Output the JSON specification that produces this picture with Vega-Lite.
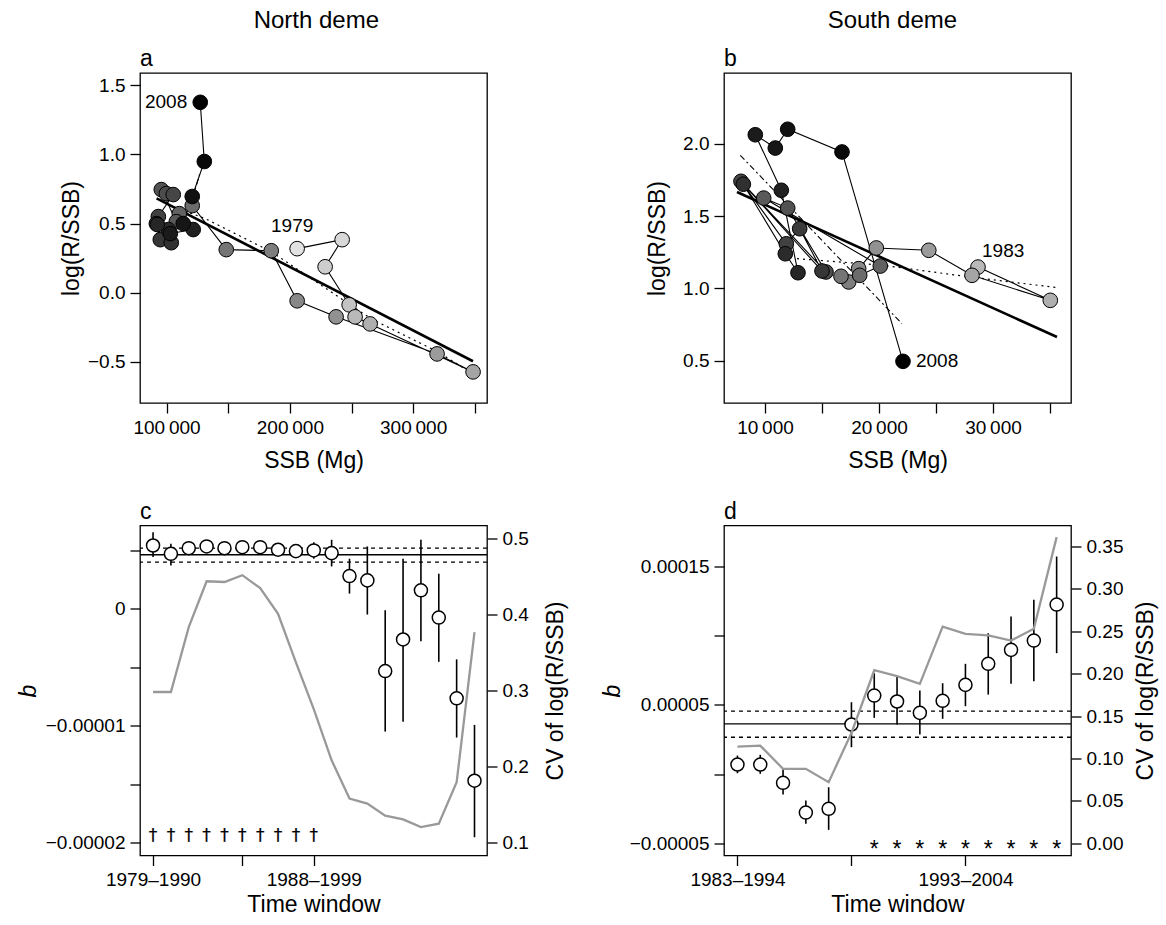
{
  "$schema": "https://vega.github.io/schema/vega-lite/v6.json",
  "padding": {"left": 16, "top": 9, "right": 2, "bottom": 2},
  "background": "white",
  "config": {
    "font": "Liberation Sans",
    "view": {"stroke": "black", "strokeWidth": 1.3},
    "axis": {"domain": false, "grid": false, "tickColor": "black", "tickWidth": 1.3, "tickSize": 10, "labelFontSize": 19, "labelColor": "black", "labelFont": "Liberation Sans", "labelPadding": 5, "titleFont": "Liberation Sans", "titleFontSize": 23, "titleFontWeight": "normal", "titleColor": "black", "labelOverlap": false, "labelFlush": false},
    "title": {"font": "Liberation Sans", "fontSize": 23, "fontWeight": "normal", "color": "black"},
    "text": {"font": "Liberation Sans", "color": "black"}
  },
  "datasets": {
    "north": [
      {"year": 1979, "ssb": 205900, "logRS": 0.319},
      {"year": 1980, "ssb": 242400, "logRS": 0.384},
      {"year": 1981, "ssb": 228600, "logRS": 0.188},
      {"year": 1982, "ssb": 248100, "logRS": -0.087},
      {"year": 1983, "ssb": 252900, "logRS": -0.174},
      {"year": 1984, "ssb": 265100, "logRS": -0.225},
      {"year": 1985, "ssb": 348600, "logRS": -0.572},
      {"year": 1986, "ssb": 319400, "logRS": -0.442},
      {"year": 1987, "ssb": 237500, "logRS": -0.174},
      {"year": 1988, "ssb": 205900, "logRS": -0.058},
      {"year": 1989, "ssb": 184900, "logRS": 0.304},
      {"year": 1990, "ssb": 148400, "logRS": 0.312},
      {"year": 1991, "ssb": 120800, "logRS": 0.630},
      {"year": 1992, "ssb": 110300, "logRS": 0.572},
      {"year": 1993, "ssb": 107900, "logRS": 0.514},
      {"year": 1994, "ssb": 95700, "logRS": 0.746},
      {"year": 1995, "ssb": 99800, "logRS": 0.717},
      {"year": 1996, "ssb": 105400, "logRS": 0.710},
      {"year": 1997, "ssb": 93300, "logRS": 0.551},
      {"year": 1998, "ssb": 91700, "logRS": 0.500},
      {"year": 1999, "ssb": 94900, "logRS": 0.384},
      {"year": 2000, "ssb": 103800, "logRS": 0.362},
      {"year": 2001, "ssb": 101400, "logRS": 0.457},
      {"year": 2002, "ssb": 92500, "logRS": 0.493},
      {"year": 2003, "ssb": 121600, "logRS": 0.457},
      {"year": 2004, "ssb": 103000, "logRS": 0.428},
      {"year": 2005, "ssb": 113500, "logRS": 0.500},
      {"year": 2006, "ssb": 120800, "logRS": 0.696},
      {"year": 2007, "ssb": 130600, "logRS": 0.949},
      {"year": 2008, "ssb": 127300, "logRS": 1.377}
    ],
    "south": [
      {"year": 1983, "ssb": 28685, "logRS": 1.147},
      {"year": 1984, "ssb": 35027, "logRS": 0.917},
      {"year": 1985, "ssb": 28158, "logRS": 1.090},
      {"year": 1986, "ssb": 24368, "logRS": 1.263},
      {"year": 1987, "ssb": 19763, "logRS": 1.279},
      {"year": 1988, "ssb": 18219, "logRS": 1.136},
      {"year": 1989, "ssb": 17342, "logRS": 1.044},
      {"year": 1990, "ssb": 16667, "logRS": 1.083},
      {"year": 1991, "ssb": 18307, "logRS": 1.090},
      {"year": 1992, "ssb": 20114, "logRS": 1.154},
      {"year": 1993, "ssb": 9886, "logRS": 1.624},
      {"year": 1994, "ssb": 11991, "logRS": 1.555},
      {"year": 1995, "ssb": 15351, "logRS": 1.113},
      {"year": 1996, "ssb": 7895, "logRS": 1.740},
      {"year": 1997, "ssb": 11869, "logRS": 1.308},
      {"year": 1998, "ssb": 13044, "logRS": 1.412},
      {"year": 1999, "ssb": 15000, "logRS": 1.120},
      {"year": 2000, "ssb": 8100, "logRS": 1.720},
      {"year": 2001, "ssb": 11781, "logRS": 1.239},
      {"year": 2002, "ssb": 12895, "logRS": 1.108},
      {"year": 2003, "ssb": 11430, "logRS": 1.678},
      {"year": 2004, "ssb": 9149, "logRS": 2.062},
      {"year": 2005, "ssb": 10904, "logRS": 1.970},
      {"year": 2006, "ssb": 11991, "logRS": 2.100},
      {"year": 2007, "ssb": 16754, "logRS": 1.943},
      {"year": 2008, "ssb": 22105, "logRS": 0.495}
    ],
    "fitsA": [
      {"fit": "solid", "ssb": 91900, "logRS": 0.683},
      {"fit": "solid", "ssb": 348550, "logRS": -0.495},
      {"fit": "dotted", "ssb": 105400, "logRS": 0.623},
      {"fit": "dotted", "ssb": 131400, "logRS": 0.536},
      {"fit": "dotted", "ssb": 184900, "logRS": 0.297},
      {"fit": "dotted", "ssb": 265900, "logRS": -0.188},
      {"fit": "dotted", "ssb": 320200, "logRS": -0.428},
      {"fit": "dotted", "ssb": 348600, "logRS": -0.587},
      {"fit": "dashed", "ssb": 121070, "logRS": 0.683},
      {"fit": "dashed", "ssb": 127070, "logRS": 0.864}
    ],
    "fitsB": [
      {"fit": "solid", "ssb": 7544, "logRS": 1.666},
      {"fit": "solid", "ssb": 35614, "logRS": 0.663},
      {"fit": "dotted", "ssb": 12807, "logRS": 1.205},
      {"fit": "dotted", "ssb": 20413, "logRS": 1.159},
      {"fit": "dotted", "ssb": 28011, "logRS": 1.078},
      {"fit": "dotted", "ssb": 35614, "logRS": 1.005},
      {"fit": "dashed", "ssb": 7833, "logRS": 1.920},
      {"fit": "dashed", "ssb": 22017, "logRS": 0.755}
    ],
    "winN": [
      {"start": 1979, "b": 5.39e-6, "lo": 4.40e-6, "hi": 6.52e-6, "cv": 0.298, "sig": "†"},
      {"start": 1980, "b": 4.68e-6, "lo": 3.69e-6, "hi": 5.54e-6, "cv": 0.298, "sig": "†"},
      {"start": 1981, "b": 5.16e-6, "lo": 4.76e-6, "hi": 5.56e-6, "cv": 0.3835, "sig": "†"},
      {"start": 1982, "b": 5.31e-6, "lo": 4.91e-6, "hi": 5.71e-6, "cv": 0.444, "sig": "†"},
      {"start": 1983, "b": 5.16e-6, "lo": 4.76e-6, "hi": 5.56e-6, "cv": 0.443, "sig": "†"},
      {"start": 1984, "b": 5.25e-6, "lo": 4.85e-6, "hi": 5.65e-6, "cv": 0.452, "sig": "†"},
      {"start": 1985, "b": 5.25e-6, "lo": 4.85e-6, "hi": 5.65e-6, "cv": 0.435, "sig": "†"},
      {"start": 1986, "b": 5.03e-6, "lo": 4.63e-6, "hi": 5.43e-6, "cv": 0.401, "sig": "†"},
      {"start": 1987, "b": 4.91e-6, "lo": 4.51e-6, "hi": 5.31e-6, "cv": 0.337, "sig": "†"},
      {"start": 1988, "b": 4.97e-6, "lo": 4.26e-6, "hi": 5.67e-6, "cv": 0.2755, "sig": "†"},
      {"start": 1989, "b": 4.74e-6, "lo": 3.60e-6, "hi": 5.88e-6, "cv": 0.208, "sig": ""},
      {"start": 1990, "b": 2.78e-6, "lo": 1.28e-6, "hi": 4.26e-6, "cv": 0.1575, "sig": ""},
      {"start": 1991, "b": 2.41e-6, "lo": -0.51e-6, "hi": 5.31e-6, "cv": 0.151, "sig": ""},
      {"start": 1992, "b": -5.34e-6, "lo": -10.51e-6, "hi": -0.14e-6, "cv": 0.135, "sig": ""},
      {"start": 1993, "b": -2.64e-6, "lo": -9.66e-6, "hi": 4.26e-6, "cv": 0.130, "sig": ""},
      {"start": 1994, "b": 1.56e-6, "lo": -2.79e-6, "hi": 5.88e-6, "cv": 0.120, "sig": ""},
      {"start": 1995, "b": -0.77e-6, "lo": -4.55e-6, "hi": 2.98e-6, "cv": 0.1245, "sig": ""},
      {"start": 1996, "b": -7.67e-6, "lo": -11.02e-6, "hi": -4.34e-6, "cv": 0.179, "sig": ""},
      {"start": 1997, "b": -14.71e-6, "lo": -19.54e-6, "hi": -9.94e-6, "cv": 0.377, "sig": ""}
    ],
    "winS": [
      {"start": 1983, "b": 6.9e-6, "lo": 0.6e-6, "hi": 13.4e-6, "cv": 0.114, "sig": ""},
      {"start": 1984, "b": 6.9e-6, "lo": 0.2e-6, "hi": 13.9e-6, "cv": 0.115, "sig": ""},
      {"start": 1985, "b": -6.3e-6, "lo": -14.8e-6, "hi": 3.8e-6, "cv": 0.0877, "sig": ""},
      {"start": 1986, "b": -27.8e-6, "lo": -35.9e-6, "hi": -19.1e-6, "cv": 0.0877, "sig": ""},
      {"start": 1987, "b": -25.1e-6, "lo": -40.3e-6, "hi": -9.5e-6, "cv": 0.072, "sig": ""},
      {"start": 1988, "b": 35.8e-6, "lo": 19.4e-6, "hi": 51.9e-6, "cv": 0.13, "sig": ""},
      {"start": 1989, "b": 56.7e-6, "lo": 40.6e-6, "hi": 72.8e-6, "cv": 0.204, "sig": "*"},
      {"start": 1990, "b": 52.4e-6, "lo": 35.8e-6, "hi": 70.4e-6, "cv": 0.197, "sig": "*"},
      {"start": 1991, "b": 44.2e-6, "lo": 28.6e-6, "hi": 60.3e-6, "cv": 0.188, "sig": "*"},
      {"start": 1992, "b": 52.9e-6, "lo": 39.9e-6, "hi": 65.6e-6, "cv": 0.2555, "sig": "*"},
      {"start": 1993, "b": 64.4e-6, "lo": 49.0e-6, "hi": 79.6e-6, "cv": 0.247, "sig": "*"},
      {"start": 1994, "b": 79.6e-6, "lo": 57.4e-6, "hi": 101.7e-6, "cv": 0.245, "sig": "*"},
      {"start": 1995, "b": 89.7e-6, "lo": 65.2e-6, "hi": 113.8e-6, "cv": 0.239, "sig": "*"},
      {"start": 1996, "b": 96.4e-6, "lo": 67.0e-6, "hi": 125.8e-6, "cv": 0.253, "sig": "*"},
      {"start": 1997, "b": 122.4e-6, "lo": 87.3e-6, "hi": 157.1e-6, "cv": 0.361, "sig": "*"}
    ],
    "refN": [
      {"kind": "mean", "b": 4.60e-6},
      {"kind": "lower", "b": 3.97e-6},
      {"kind": "upper", "b": 5.16e-6}
    ],
    "refS": [
      {"kind": "mean", "b": 36.3e-6},
      {"kind": "lower", "b": 26.6e-6},
      {"kind": "upper", "b": 45.4e-6}
    ]
  },
  "spacing": 31,
  "hconcat": [
    {
      "spacing": 26.5,
      "title": {"text": "North deme", "anchor": "middle", "offset": 14, "fontSize": 24, "dx": 24},
      "vconcat": [
        {
          "width": 347, "height": 330,
          "title": {"text": "a", "anchor": "start", "frame": "group", "offset": 2},
          "layer": [
            {"data": {"name": "fitsA"}, "transform": [{"filter": "datum.fit == 'solid'"}],
             "mark": {"type": "line", "color": "black", "strokeWidth": 2.6},
             "encoding": {
               "x": {"field": "ssb", "type": "quantitative", "scale": {"domain": [78440, 359900], "nice": false, "zero": false},
                     "axis": {"title": "SSB (Mg)", "values": [100000, 150000, 200000, 250000, 300000, 350000], "labelExpr": "datum.value % 100000 == 0 ? replace(format(datum.value, ','), ',', '\u2009') : ''", "titlePadding": 12}},
               "y": {"field": "logRS", "type": "quantitative", "scale": {"domain": [-0.797, 1.589], "nice": false, "zero": false},
                     "axis": {"title": "log(R/SSB)", "values": [-0.5, 0, 0.5, 1, 1.5], "format": ".1f", "titlePadding": 4}}
             }},
            {"data": {"name": "fitsA"}, "transform": [{"filter": "datum.fit == 'dotted'"}],
             "mark": {"type": "line", "color": "black", "strokeWidth": 1.2, "strokeDash": [2, 4]},
             "encoding": {"x": {"field": "ssb", "type": "quantitative"}, "y": {"field": "logRS", "type": "quantitative"}}},
            {"data": {"name": "fitsA"}, "transform": [{"filter": "datum.fit == 'dashed'"}],
             "mark": {"type": "line", "color": "black", "strokeWidth": 1.1, "strokeDash": [6, 3, 2, 3]},
             "encoding": {"x": {"field": "ssb", "type": "quantitative"}, "y": {"field": "logRS", "type": "quantitative"}}},
            {"data": {"name": "north"},
             "mark": {"type": "line", "color": "black", "strokeWidth": 1.1},
             "encoding": {"x": {"field": "ssb", "type": "quantitative"}, "y": {"field": "logRS", "type": "quantitative"}, "order": {"field": "year", "type": "quantitative"}}},
            {"data": {"name": "north"},
             "mark": {"type": "circle", "size": 215, "opacity": 1, "stroke": "black", "strokeWidth": 1},
             "encoding": {"x": {"field": "ssb", "type": "quantitative"}, "y": {"field": "logRS", "type": "quantitative"},
                          "color": {"field": "year", "type": "quantitative", "scale": {"domain": [1979, 1992, 2008], "range": ["#e2e2e2", "#555555", "#000000"]}, "legend": null}}},
            {"data": {"name": "north"}, "transform": [{"filter": "datum.year == 2008"}],
             "mark": {"type": "text", "align": "right", "baseline": "middle", "dx": -13, "fontSize": 19, "fill": "black"},
             "encoding": {"x": {"field": "ssb", "type": "quantitative"}, "y": {"field": "logRS", "type": "quantitative"}, "text": {"field": "year", "type": "nominal"}}},
            {"data": {"name": "north"}, "transform": [{"filter": "datum.year == 1979"}],
             "mark": {"type": "text", "align": "center", "baseline": "middle", "dx": -5, "dy": -23, "fontSize": 19, "fill": "black"},
             "encoding": {"x": {"field": "ssb", "type": "quantitative"}, "y": {"field": "logRS", "type": "quantitative"}, "text": {"field": "year", "type": "nominal"}}}
          ]
        },
        {
          "width": 347, "height": 330,
          "title": {"text": "c", "anchor": "start", "frame": "group", "offset": 2},
          "layer": [
            {"layer": [
              {"data": {"name": "winN"},
               "mark": {"type": "rule", "color": "black", "strokeWidth": 1.6},
               "encoding": {
                 "x": {"field": "start", "type": "quantitative", "scale": {"domain": [1978.27, 1997.7], "nice": false, "zero": false},
                       "axis": {"title": "Time window", "values": [1979, 1984, 1988], "labelExpr": "datum.value == 1979 || datum.value == 1988 ? datum.value + '–' + (datum.value + 11) : ''", "titlePadding": 4}},
                 "y": {"field": "lo", "type": "quantitative", "scale": {"domain": [-0.0000211, 0.0000071], "nice": false, "zero": false},
                       "axis": {"title": "b", "titleFontStyle": "italic", "values": [-0.00002, -0.000015, -0.00001, -0.000005, 0, 0.000005], "labelExpr": "datum.value == 0 ? '0' : datum.value == -0.00001 ? '−0.00001' : datum.value == -0.00002 ? '−0.00002' : ''", "titlePadding": 5}},
                 "y2": {"field": "hi"}
               }},
              {"data": {"name": "refN"}, "transform": [{"filter": "datum.kind == 'mean'"}],
               "mark": {"type": "rule", "color": "black", "strokeWidth": 1.3},
               "encoding": {"y": {"field": "b", "type": "quantitative"}}},
              {"data": {"name": "refN"}, "transform": [{"filter": "datum.kind != 'mean'"}],
               "mark": {"type": "rule", "color": "black", "strokeWidth": 1.3, "strokeDash": [4, 4]},
               "encoding": {"y": {"field": "b", "type": "quantitative"}}},
              {"data": {"name": "winN"},
               "mark": {"type": "point", "shape": "circle", "filled": true, "fill": "white", "stroke": "black", "strokeWidth": 1.5, "size": 170, "opacity": 1},
               "encoding": {"x": {"field": "start", "type": "quantitative"}, "y": {"field": "b", "type": "quantitative"}}},
              {"data": {"name": "winN"}, "transform": [{"filter": "datum.sig != ''"}],
               "mark": {"type": "text", "font": "DejaVu Sans", "fontSize": 17, "baseline": "middle", "fill": "black", "stroke": "black", "strokeWidth": 0.2},
               "encoding": {"x": {"field": "start", "type": "quantitative"}, "y": {"datum": -0.00001945}, "text": {"field": "sig"}}}
            ]},
            {"data": {"name": "winN"},
             "mark": {"type": "line", "color": "#999999", "strokeWidth": 2.3},
             "encoding": {"x": {"field": "start", "type": "quantitative"},
                          "y": {"field": "cv", "type": "quantitative", "scale": {"domain": [0.0825, 0.5175], "nice": false, "zero": false},
                                "axis": {"orient": "right", "title": "CV of log(R/SSB)", "values": [0.1, 0.2, 0.3, 0.4, 0.5], "format": ".1f", "titleAngle": 270, "titleBaseline": "top", "titlePadding": 16}}}}
          ],
          "resolve": {"scale": {"y": "independent"}}
        }
      ]
    },
    {
      "spacing": 26.5,
      "title": {"text": "South deme", "anchor": "middle", "offset": 14, "fontSize": 24, "dx": 13},
      "vconcat": [
        {
          "width": 347, "height": 330,
          "title": {"text": "b", "anchor": "start", "frame": "group", "offset": 2},
          "layer": [
            {"data": {"name": "fitsB"}, "transform": [{"filter": "datum.fit == 'solid'"}],
             "mark": {"type": "line", "color": "black", "strokeWidth": 2.6},
             "encoding": {
               "x": {"field": "ssb", "type": "quantitative", "scale": {"domain": [6404, 36843], "nice": false, "zero": false},
                     "axis": {"title": "SSB (Mg)", "values": [10000, 15000, 20000, 25000, 30000, 35000], "labelExpr": "datum.value % 10000 == 0 ? replace(format(datum.value, ','), ',', '\u2009') : ''", "titlePadding": 12}},
               "y": {"field": "logRS", "type": "quantitative", "scale": {"domain": [0.207, 2.489], "nice": false, "zero": false},
                     "axis": {"title": "log(R/SSB)", "values": [0.5, 1, 1.5, 2], "format": ".1f", "titlePadding": 13}}
             }},
            {"data": {"name": "fitsB"}, "transform": [{"filter": "datum.fit == 'dotted'"}],
             "mark": {"type": "line", "color": "black", "strokeWidth": 1.2, "strokeDash": [2, 4]},
             "encoding": {"x": {"field": "ssb", "type": "quantitative"}, "y": {"field": "logRS", "type": "quantitative"}}},
            {"data": {"name": "fitsB"}, "transform": [{"filter": "datum.fit == 'dashed'"}],
             "mark": {"type": "line", "color": "black", "strokeWidth": 1.1, "strokeDash": [6, 3, 2, 3]},
             "encoding": {"x": {"field": "ssb", "type": "quantitative"}, "y": {"field": "logRS", "type": "quantitative"}}},
            {"data": {"name": "south"},
             "mark": {"type": "line", "color": "black", "strokeWidth": 1.1},
             "encoding": {"x": {"field": "ssb", "type": "quantitative"}, "y": {"field": "logRS", "type": "quantitative"}, "order": {"field": "year", "type": "quantitative"}}},
            {"data": {"name": "south"},
             "mark": {"type": "circle", "size": 215, "opacity": 1, "stroke": "black", "strokeWidth": 1},
             "encoding": {"x": {"field": "ssb", "type": "quantitative"}, "y": {"field": "logRS", "type": "quantitative"},
                          "color": {"field": "year", "type": "quantitative", "scale": {"domain": [1983, 1993, 2008], "range": ["#f2f2f2", "#6a6a6a", "#000000"]}, "legend": null}}},
            {"data": {"name": "south"}, "transform": [{"filter": "datum.year == 2008"}],
             "mark": {"type": "text", "align": "left", "baseline": "middle", "dx": 13, "fontSize": 19, "fill": "black"},
             "encoding": {"x": {"field": "ssb", "type": "quantitative"}, "y": {"field": "logRS", "type": "quantitative"}, "text": {"field": "year", "type": "nominal"}}},
            {"data": {"name": "south"}, "transform": [{"filter": "datum.year == 1983"}],
             "mark": {"type": "text", "align": "left", "baseline": "middle", "dx": 4, "dy": -16, "fontSize": 19, "fill": "black"},
             "encoding": {"x": {"field": "ssb", "type": "quantitative"}, "y": {"field": "logRS", "type": "quantitative"}, "text": {"field": "year", "type": "nominal"}}}
          ]
        },
        {
          "width": 347, "height": 330,
          "title": {"text": "d", "anchor": "start", "frame": "group", "offset": 2},
          "layer": [
            {"layer": [
              {"data": {"name": "winS"},
               "mark": {"type": "rule", "color": "black", "strokeWidth": 1.6},
               "encoding": {
                 "x": {"field": "start", "type": "quantitative", "scale": {"domain": [1982.41, 1997.63], "nice": false, "zero": false},
                       "axis": {"title": "Time window", "values": [1983, 1988, 1993], "labelExpr": "datum.value == 1983 || datum.value == 1993 ? datum.value + '–' + (datum.value + 11) : ''", "titlePadding": 4}},
                 "y": {"field": "lo", "type": "quantitative", "scale": {"domain": [-0.0000588, 0.0001795], "nice": false, "zero": false},
                       "axis": {"title": "b", "titleFontStyle": "italic", "values": [-0.00005, 0, 0.00005, 0.0001, 0.00015], "labelExpr": "datum.value == -0.00005 ? '−0.00005' : datum.value == 0.00005 ? '0.00005' : datum.value == 0.00015 ? '0.00015' : ''", "titlePadding": 5}},
                 "y2": {"field": "hi"}
               }},
              {"data": {"name": "refS"}, "transform": [{"filter": "datum.kind == 'mean'"}],
               "mark": {"type": "rule", "color": "black", "strokeWidth": 1.3},
               "encoding": {"y": {"field": "b", "type": "quantitative"}}},
              {"data": {"name": "refS"}, "transform": [{"filter": "datum.kind != 'mean'"}],
               "mark": {"type": "rule", "color": "black", "strokeWidth": 1.3, "strokeDash": [4, 4]},
               "encoding": {"y": {"field": "b", "type": "quantitative"}}},
              {"data": {"name": "winS"},
               "mark": {"type": "point", "shape": "circle", "filled": true, "fill": "white", "stroke": "black", "strokeWidth": 1.5, "size": 170, "opacity": 1},
               "encoding": {"x": {"field": "start", "type": "quantitative"}, "y": {"field": "b", "type": "quantitative"}}},
              {"data": {"name": "winS"}, "transform": [{"filter": "datum.sig != ''"}],
               "mark": {"type": "text", "fontSize": 23, "baseline": "middle", "dy": 6, "fill": "black"},
               "encoding": {"x": {"field": "start", "type": "quantitative"}, "y": {"datum": -0.0000504}, "text": {"field": "sig"}}}
            ]},
            {"data": {"name": "winS"},
             "mark": {"type": "line", "color": "#999999", "strokeWidth": 2.3},
             "encoding": {"x": {"field": "start", "type": "quantitative"},
                          "y": {"field": "cv", "type": "quantitative", "scale": {"domain": [-0.0145, 0.3747], "nice": false, "zero": false},
                                "axis": {"orient": "right", "title": "CV of log(R/SSB)", "values": [0, 0.05, 0.1, 0.15, 0.2, 0.25, 0.3, 0.35], "format": ".2f", "titleAngle": 270, "titleBaseline": "top", "titlePadding": 11.5}}}}
          ],
          "resolve": {"scale": {"y": "independent"}}
        }
      ]
    }
  ]
}
